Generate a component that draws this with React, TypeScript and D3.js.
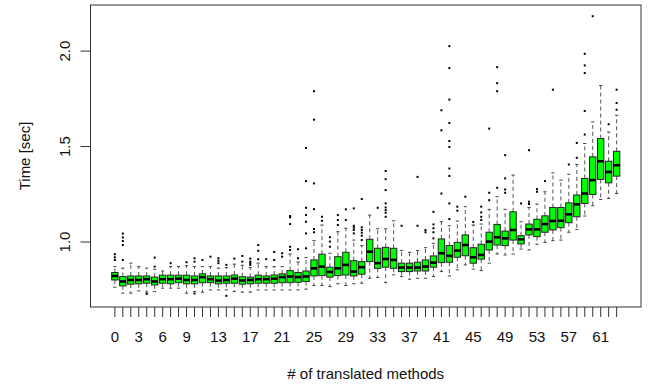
import React, { useRef, useEffect } from 'react';
import { select, scaleLinear, range, min, max } from 'd3';

// number of translated methods, one box per value
const methods = range(64);

const lowerWhisker = [
  0.763, 0.732, 0.732, 0.744, 0.737, 0.740, 0.758, 0.758, 0.758, 0.732,
  0.740, 0.737, 0.749, 0.749, 0.749, 0.740, 0.737, 0.737, 0.749, 0.749,
  0.749, 0.749, 0.749, 0.749, 0.753, 0.772, 0.772, 0.766, 0.781, 0.772,
  0.781, 0.784, 0.810, 0.814, 0.787, 0.828, 0.819, 0.805, 0.810, 0.810,
  0.819, 0.845, 0.822, 0.854, 0.880, 0.858, 0.850, 0.889, 0.937, 0.932,
  0.937, 0.963, 0.958, 0.988, 0.998, 1.007, 1.010, 1.051, 1.066, 1.136,
  1.190, 1.223, 1.228, 1.254,
];
const q1 = [
  0.801, 0.770, 0.779, 0.781, 0.784, 0.775, 0.784, 0.781, 0.787, 0.781,
  0.781, 0.787, 0.787, 0.781, 0.784, 0.784, 0.779, 0.781, 0.784, 0.784,
  0.784, 0.787, 0.787, 0.789, 0.793, 0.822, 0.824, 0.816, 0.824, 0.827,
  0.822, 0.831, 0.897, 0.862, 0.868, 0.862, 0.845, 0.845, 0.848, 0.848,
  0.868, 0.892, 0.894, 0.920, 0.928, 0.889, 0.910, 0.958, 0.984, 0.981,
  1.010, 0.990, 1.037, 1.028, 1.051, 1.063, 1.075, 1.101, 1.132, 1.202,
  1.249, 1.328, 1.310, 1.345,
];
const medians = [
  0.822, 0.793, 0.801, 0.801, 0.805, 0.793, 0.805, 0.805, 0.808, 0.801,
  0.801, 0.816, 0.805, 0.798, 0.801, 0.808, 0.798, 0.801, 0.805, 0.805,
  0.808, 0.816, 0.819, 0.816, 0.819, 0.862, 0.871, 0.843, 0.862, 0.880,
  0.845, 0.868, 0.949, 0.889, 0.911, 0.906, 0.866, 0.866, 0.866, 0.871,
  0.892, 0.941, 0.927, 0.955, 0.984, 0.920, 0.932, 1.002, 1.025, 1.019,
  1.063, 1.014, 1.066, 1.066, 1.094, 1.110, 1.111, 1.145, 1.197, 1.254,
  1.324, 1.423, 1.367, 1.402,
];
const q3 = [
  0.840, 0.819, 0.822, 0.822, 0.822, 0.816, 0.826, 0.826, 0.826, 0.826,
  0.822, 0.833, 0.822, 0.822, 0.822, 0.827, 0.818, 0.816, 0.826, 0.822,
  0.827, 0.833, 0.850, 0.840, 0.848, 0.906, 0.936, 0.868, 0.923, 0.946,
  0.902, 0.897, 1.014, 0.967, 0.972, 0.967, 0.889, 0.889, 0.894, 0.906,
  0.927, 1.016, 0.981, 0.998, 1.037, 0.970, 0.988, 1.051, 1.092, 1.057,
  1.158, 1.033, 1.094, 1.119, 1.137, 1.181, 1.181, 1.205, 1.246, 1.333,
  1.446, 1.542, 1.423, 1.475,
];
const upperWhisker = [
  0.871, 0.863, 0.889, 0.871, 0.863, 0.857, 0.848, 0.871, 0.871, 0.876,
  0.871, 0.871, 0.871, 0.863, 0.866, 0.884, 0.878, 0.866, 0.889, 0.871,
  0.871, 0.871, 0.937, 0.895, 0.918, 1.007, 1.089, 0.941, 1.054, 1.072,
  1.010, 0.981, 1.141, 1.069, 1.069, 1.111, 0.955, 0.946, 0.955, 0.970,
  0.993, 1.106, 1.085, 1.110, 1.185, 1.089, 1.094, 1.171, 1.237, 1.171,
  1.350, 1.106, 1.181, 1.199, 1.263, 1.362, 1.324, 1.355, 1.406, 1.516,
  1.629, 1.820, 1.576, 1.664,
];
const outliers = [
  [0.936, 0.920, 0.906],
  [1.044, 1.024, 1.005, 0.984, 0.906],
  [],
  [],
  [0.728],
  [0.918, 0.871],
  [],
  [0.889],
  [],
  [0.894],
  [0.915, 0.897, 0.730],
  [0.906],
  [0.923],
  [0.915, 0.902, 0.889],
  [0.880, 0.718],
  [0.913],
  [0.927, 0.897],
  [0.913, 0.897, 0.889, 0.880],
  [0.984, 0.954, 0.910],
  [0.910],
  [0.948, 0.906],
  [0.941, 0.923],
  [1.136, 1.129, 1.094, 0.975, 0.958],
  [0.962, 0.915],
  [1.493, 1.319, 1.179, 1.141, 1.106, 1.045, 0.967],
  [1.790, 1.641, 1.307, 1.172, 1.068, 1.051],
  [1.132, 1.111],
  [1.025, 1.002, 0.975],
  [1.141, 1.115, 1.089],
  [1.171, 1.115],
  [1.176, 1.085, 1.075, 1.063, 1.045],
  [1.225, 1.077, 1.063, 1.049, 1.033, 1.010],
  [],
  [1.179],
  [1.372, 1.329, 1.272, 1.202, 1.181, 1.167, 1.153, 1.132],
  [],
  [1.085],
  [],
  [1.341, 1.085],
  [1.063, 1.051],
  [1.158, 1.092, 1.072, 1.051, 1.019],
  [1.690, 1.585, 1.254],
  [2.026, 1.911, 1.746, 1.623, 1.529, 1.498, 1.385, 1.346, 1.202, 1.120],
  [1.185, 1.164],
  [1.237],
  [1.105],
  [1.185, 1.155, 1.132, 1.115],
  [1.594, 1.258, 1.219],
  [1.916, 1.832, 1.790, 1.284],
  [1.455, 1.333, 1.275, 1.258],
  [],
  [1.202],
  [1.481, 1.211, 1.199],
  [1.277, 1.263],
  [1.319],
  [1.798],
  [],
  [1.406],
  [1.519, 1.441],
  [1.986, 1.925, 1.885, 1.686, 1.563],
  [2.183],
  [],
  [1.617],
  [1.798, 1.728, 1.693],
];

// R drops labels that would overlap
const shownLabels = [0, 3, 6, 9, 13, 17, 21, 25, 29, 33, 37, 41, 45, 49, 53, 57, 61];
const yTicks = [1.0, 1.5, 2.0];

const W = 649;
const H = 385;
const FONT = '"Liberation Sans", Arial, Helvetica, sans-serif';

export default function App() {
  const svgRef = useRef(null);

  useEffect(() => {
    const svg = select(svgRef.current);
    svg.selectAll('*').remove();

    const left = 90.5;
    const right = 641;
    const top = 5;
    const bottom = 307;

    // R style limits: 4% padding around the data range
    const xLo = -0.5;
    const xHi = methods.length - 0.5;
    const xPad = (xHi - xLo) * 0.04;
    const x = scaleLinear().domain([xLo - xPad, xHi + xPad]).range([left, right]);

    const allVals = [...lowerWhisker, ...upperWhisker, ...outliers.flat()];
    const yMin = min(allVals);
    const yMax = max(allVals);
    const yPad = (yMax - yMin) * 0.04;
    const y = scaleLinear().domain([yMin - yPad, yMax + yPad]).range([bottom, top]);

    const unit = x(1) - x(0);
    const boxW = unit * 0.8;
    const capW = boxW / 2;

    const g = svg.append('g');

    // whiskers
    const boxes = g
      .selectAll('g.box')
      .data(methods)
      .join('g')
      .attr('class', 'box');

    boxes
      .append('line')
      .attr('x1', d => x(d))
      .attr('x2', d => x(d))
      .attr('y1', d => y(q3[d]))
      .attr('y2', d => y(upperWhisker[d]))
      .attr('stroke', '#555')
      .attr('stroke-dasharray', '4,3');
    boxes
      .append('line')
      .attr('x1', d => x(d))
      .attr('x2', d => x(d))
      .attr('y1', d => y(q1[d]))
      .attr('y2', d => y(lowerWhisker[d]))
      .attr('stroke', '#555')
      .attr('stroke-dasharray', '4,3');
    boxes
      .append('line')
      .attr('x1', d => x(d) - capW / 2)
      .attr('x2', d => x(d) + capW / 2)
      .attr('y1', d => y(upperWhisker[d]))
      .attr('y2', d => y(upperWhisker[d]))
      .attr('stroke', '#444');
    boxes
      .append('line')
      .attr('x1', d => x(d) - capW / 2)
      .attr('x2', d => x(d) + capW / 2)
      .attr('y1', d => y(lowerWhisker[d]))
      .attr('y2', d => y(lowerWhisker[d]))
      .attr('stroke', '#444');

    boxes
      .append('rect')
      .attr('x', d => x(d) - boxW / 2)
      .attr('width', boxW)
      .attr('y', d => y(q3[d]))
      .attr('height', d => y(q1[d]) - y(q3[d]))
      .attr('fill', '#00ff00')
      .attr('stroke', '#222')
      .attr('stroke-width', 1);

    boxes
      .append('line')
      .attr('x1', d => x(d) - boxW / 2)
      .attr('x2', d => x(d) + boxW / 2)
      .attr('y1', d => y(medians[d]))
      .attr('y2', d => y(medians[d]))
      .attr('stroke', '#000')
      .attr('stroke-width', 2.6);

    boxes
      .selectAll('rect.out')
      .data(d => outliers[d].map(v => ({ i: d, v })))
      .join('rect')
      .attr('class', 'out')
      .attr('x', d => x(d.i) - 1)
      .attr('y', d => y(d.v) - 1)
      .attr('width', 2)
      .attr('height', 2)
      .attr('fill', '#000');

    // frame
    svg
      .append('rect')
      .attr('x', left)
      .attr('y', top)
      .attr('width', right - left)
      .attr('height', bottom - top)
      .attr('fill', 'none')
      .attr('stroke', '#333');

    // x axis
    svg
      .append('g')
      .selectAll('line')
      .data(methods)
      .join('line')
      .attr('x1', d => x(d))
      .attr('x2', d => x(d))
      .attr('y1', bottom)
      .attr('y2', bottom + 10)
      .attr('stroke', '#333');
    svg
      .append('g')
      .selectAll('text')
      .data(shownLabels)
      .join('text')
      .attr('x', d => x(d))
      .attr('y', 342)
      .attr('text-anchor', 'middle')
      .attr('font-family', FONT)
      .attr('font-size', 15)
      .attr('fill', '#111')
      .text(d => String(d));

    // y axis
    svg
      .append('g')
      .selectAll('line')
      .data(yTicks)
      .join('line')
      .attr('x1', left - 10)
      .attr('x2', left)
      .attr('y1', d => y(d))
      .attr('y2', d => y(d))
      .attr('stroke', '#333');
    svg
      .append('g')
      .selectAll('text')
      .data(yTicks)
      .join('text')
      .attr('transform', d => `translate(70,${y(d)}) rotate(-90)`)
      .attr('text-anchor', 'middle')
      .attr('font-family', FONT)
      .attr('font-size', 15)
      .attr('fill', '#111')
      .text(d => d.toFixed(1));

    // titles
    svg
      .append('text')
      .attr('x', (left + right) / 2)
      .attr('y', 378.5)
      .attr('text-anchor', 'middle')
      .attr('font-family', FONT)
      .attr('font-size', 15)
      .attr('fill', '#111')
      .text('# of translated methods');
    svg
      .append('text')
      .attr('transform', `translate(29.5,${(top + bottom) / 2}) rotate(-90)`)
      .attr('text-anchor', 'middle')
      .attr('font-family', FONT)
      .attr('font-size', 15)
      .attr('fill', '#111')
      .text('Time [sec]');
  }, []);

  return (
    <svg
      ref={svgRef}
      xmlns="http://www.w3.org/2000/svg"
      width={W}
      height={H}
      viewBox={`0 0 ${W} ${H}`}
      style={{ position: 'absolute', left: 0, top: 0, background: '#fff' }}
    />
  );
}
